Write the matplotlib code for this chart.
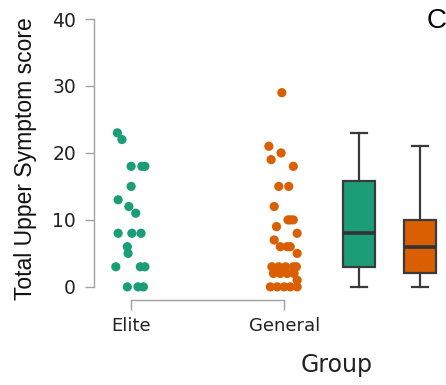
import matplotlib
matplotlib.use('Agg')
import matplotlib.pyplot as plt

# Data
groups = ['Elite', 'General']
colors = ['#1b9e77', '#d95f02']

elite_scores = [23, 22, 18, 18, 18, 15, 13, 12, 11, 8, 8, 8, 6, 5, 3, 3, 3, 0, 0, 0]
elite_jitter = [-0.09, -0.06, 0.0, 0.07, 0.09, 0.0, -0.085, -0.015, 0.03, -0.085, 0.005, 0.065,
                -0.025, -0.02, -0.1, 0.06, 0.09, -0.025, 0.045, 0.08]

general_scores = [29, 21, 20, 19, 18, 15, 15, 12, 10, 10, 10, 9, 8, 7, 6, 6, 6, 5,
                  3, 3, 3, 3, 3, 2, 2, 2, 2, 1, 0, 0, 0, 0, 0]
general_jitter = [-0.015, -0.1, -0.02, -0.085, 0.06, -0.035, 0.03, -0.065, 0.025, 0.06, 0.04,
                  -0.05, 0.085, -0.065, -0.025, 0.02, 0.04, 0.085,
                  -0.08, -0.035, 0.01, 0.06, 0.08, -0.07, -0.025, 0.02, 0.065, 0.085,
                  -0.09, -0.045, 0.0, 0.04, 0.085]

y_ticks = [0, 10, 20, 30, 40]

fig = plt.figure(figsize=(4.46, 3.85), dpi=100)
ax = fig.add_axes([0.211, 0.221, 0.776, 0.747])

# jittered points
for i, (scores, jit) in enumerate([(elite_scores, elite_jitter), (general_scores, general_jitter)]):
    xs = [i + 1 + j for j in jit]
    ax.scatter(xs, scores, s=44, color=colors[i], edgecolors='none', zorder=3)

# boxplots to the right of the points
bp = ax.boxplot([elite_scores, general_scores], positions=[2.49, 2.89], widths=0.21,
                patch_artist=True, showfliers=False, manage_ticks=False)
for patch, c in zip(bp['boxes'], colors):
    patch.set_facecolor(c)
    patch.set_edgecolor('#3a3a3a')
    patch.set_linewidth(1.6)
for ln in bp['whiskers'] + bp['caps']:
    ln.set_color('#3a3a3a')
    ln.set_linewidth(1.6)
for ln in bp['medians']:
    ln.set_color('#333333')
    ln.set_linewidth(2.6)

ax.set_xlim(0.758, 3.02)
ax.set_ylim(-1.95, 41)

for s in ['top', 'right']:
    ax.spines[s].set_visible(False)
ax.spines['left'].set_bounds(0, 40)
ax.spines['bottom'].set_bounds(1, 2)
for s in ['left', 'bottom']:
    ax.spines[s].set_color('#a0a0a0')
    ax.spines[s].set_linewidth(1.0)

ax.set_yticks(y_ticks)
ax.set_xticks([1, 2])
ax.set_xticklabels(groups)
ax.tick_params(axis='y', length=6.5, width=1.0, color='#a0a0a0', pad=6.5, labelsize=13.5, labelcolor='#222222')
ax.tick_params(axis='x', length=7, width=1.0, color='#a0a0a0', pad=5, labelsize=13, labelcolor='#222222')

ax.set_ylabel('Total Upper Symptom score', fontsize=16.5, family='Liberation Sans', color='#111111')
ax.yaxis.set_label_coords(-0.165, 0.49)
ax.set_xlabel('Group', fontsize=17, color='#222222')
ax.xaxis.set_label_coords(0.702, -0.185)

fig.text(0.978, 0.945, 'C', fontsize=20, family='Liberation Sans', ha='center', va='center')

fig.savefig('out.png', dpi=100)
